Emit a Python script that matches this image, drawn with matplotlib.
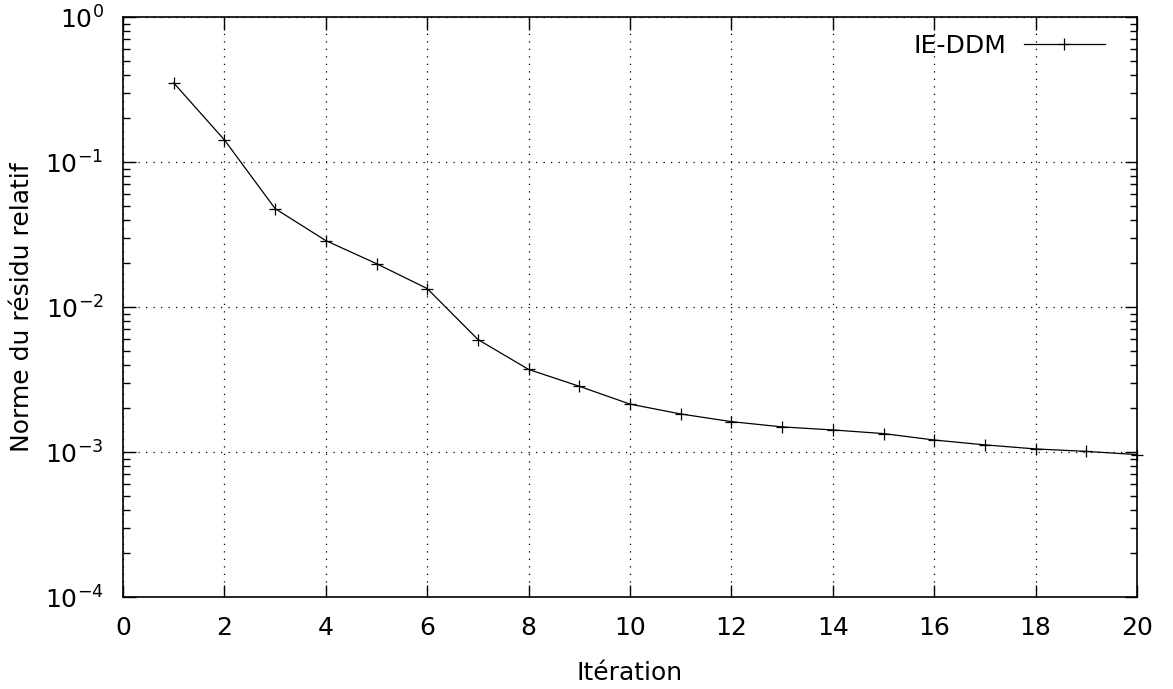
import math
import matplotlib
matplotlib.use("Agg")
import matplotlib.pyplot as plt
from matplotlib.ticker import FixedLocator, FuncFormatter, LogLocator, NullFormatter

iterations = [1, 2, 3, 4, 5, 6, 7, 8, 9, 10, 11, 12, 13, 14, 15, 16, 17, 18, 19, 20]
residual = [0.351, 0.142, 0.0477, 0.0287, 0.0199, 0.0134, 0.00597, 0.00371, 0.00284,
            0.00214, 0.00183, 0.00162, 0.00149, 0.00142, 0.00134, 0.00121, 0.00112,
            0.00105, 0.00101, 0.00096]
series_label = "IE-DDM"
x_label = "Itération"
y_label = "Norme du résidu relatif"
x_ticks = list(range(0, 21, 2))

plt.rcParams['mathtext.fontset'] = 'dejavusans'
plt.rcParams['mathtext.default'] = 'regular'
plt.rcParams['font.family'] = ['DejaVu Sans']

fig = plt.figure(figsize=(11.73, 6.89), dpi=100)
ax = fig.add_axes([0.1049, 0.1335, 0.9693 - 0.1049, 0.9753 - 0.1335])

ax.plot(iterations, residual, color='black', linewidth=0.9, marker='+',
        markersize=9, markeredgewidth=0.9, label=series_label, clip_on=False)

ax.set_yscale('log')
ax.set_xlim(0, 20)
ax.set_ylim(1e-4, 1e0)
ax.xaxis.set_major_locator(FixedLocator(x_ticks))
ax.yaxis.set_major_locator(LogLocator(base=10, numticks=10))
ax.yaxis.set_minor_locator(LogLocator(base=10, subs=range(2, 10), numticks=20))
ax.yaxis.set_minor_formatter(NullFormatter())
ax.yaxis.set_major_formatter(FuncFormatter(lambda v, p: r'$10^{%d}$' % round(math.log10(v))))

ax.tick_params(which='both', direction='in', top=True, right=True, colors='black')
ax.tick_params(which='major', length=9, width=1, labelsize=18, pad=14)
ax.tick_params(which='minor', length=5, width=1)
ax.grid(True, which='major', linestyle=(0, (1, 5)), color='black', linewidth=0.9)

for s in ax.spines.values():
    s.set_linewidth(1.2)
    s.set_color('black')

ax.set_xlabel(x_label, fontsize=18, labelpad=15)
ax.set_ylabel(y_label, fontsize=18, labelpad=8)

leg = ax.legend(loc='upper right', bbox_to_anchor=(0.9684, 0.971), frameon=False,
                markerfirst=False, fontsize=18, handlelength=3.24, borderaxespad=0,
                borderpad=0, handletextpad=0.72)

fig.savefig('out.png', dpi=100)
